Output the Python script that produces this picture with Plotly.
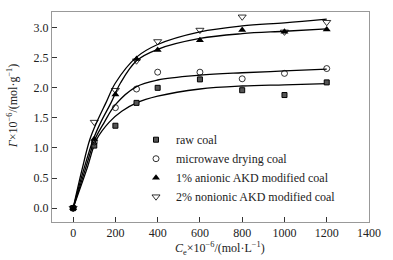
import plotly.graph_objects as go

# measured data points
conc = [0, 100, 200, 300, 400, 600, 800, 1000, 1200]
raw_coal = [0, 1.04, 1.37, 1.75, 2.00, 2.14, 1.96, 1.88, 2.09]
microwave = [0, 1.10, 1.67, 1.98, 2.26, 2.26, 2.15, 2.24, 2.32]
anionic = [0, 1.15, 1.89, 2.48, 2.63, 2.79, 2.96, 2.93, 2.97]
nonionic = [0, 1.43, 1.96, 2.45, 2.77, 2.96, 3.18, 2.93, 3.09]

# fitted curves
raw_fit_x = [0, 64, 111, 171, 230, 300, 400, 600, 800, 1000, 1200]
raw_fit_y = [0, 0.64, 1.14, 1.43, 1.61, 1.75, 1.86, 1.98, 2.03, 2.05, 2.07]
mw_fit_x = [0, 57, 103, 148, 200, 300, 400, 600, 800, 1000, 1200]
mw_fit_y = [0, 0.64, 1.14, 1.43, 1.72, 2.02, 2.13, 2.21, 2.25, 2.28, 2.31]
an_fit_x = [0, 50, 95, 131, 179, 224, 300, 400, 600, 800, 1000, 1200]
an_fit_y = [0, 0.64, 1.14, 1.43, 1.75, 2.08, 2.45, 2.64, 2.82, 2.90, 2.94, 2.98]
ni_fit_x = [0, 42, 79, 112, 155, 200, 300, 400, 600, 800, 1000, 1200]
ni_fit_y = [0, 0.64, 1.14, 1.43, 1.75, 2.08, 2.51, 2.72, 2.93, 3.03, 3.08, 3.14]

x_ticks = [0, 200, 400, 600, 800, 1000, 1200, 1400]
y_ticks = [0.0, 0.5, 1.0, 1.5, 2.0, 2.5, 3.0]

x_title = "<i>C</i><sub>e</sub>×10<sup>−6</sup>/(mol·L<sup>−1</sup>)"
y_title = "<i>Γ</i>×10<sup>−6</sup>/(mol·g<sup>−1</sup>)"

FONT = "Liberation Serif, Times New Roman, DejaVu Serif, serif"
fig = go.Figure()

for fx, fy in [(raw_fit_x, raw_fit_y), (mw_fit_x, mw_fit_y),
               (an_fit_x, an_fit_y), (ni_fit_x, ni_fit_y)]:
    fig.add_trace(go.Scatter(x=fx, y=fy, mode="lines", showlegend=False,
                             line=dict(color="black", width=1.3, shape="spline", smoothing=1.0),
                             hoverinfo="skip"))

series = [
    ("raw coal", raw_coal, dict(symbol="square", size=5, color="#555", line=dict(color="black", width=1))),
    ("microwave drying coal", microwave, dict(symbol="circle-open", size=6, color="black", line=dict(width=0.8))),
    ("1% anionic AKD modified coal", anionic, dict(symbol="triangle-up", size=7, color="black")),
    ("2% nonionic AKD modified coal", nonionic, dict(symbol="triangle-down-open", size=7, color="black", line=dict(width=0.8))),
]
for name, vals, mk in series:
    fig.add_trace(go.Scatter(x=conc, y=vals, mode="markers", name=name, marker=mk))

axis_common = dict(showline=True, mirror=True, linecolor="#999", linewidth=1,
                   ticks="inside", ticklen=5, tickcolor="#333", showgrid=False,
                   zeroline=False, ticklabeloverflow="allow", automargin=False,
                   tickfont=dict(family=FONT, size=12, color="#222"))

fig.update_layout(
    width=393, height=260,
    margin=dict(l=52, r=24, t=12, b=38),
    paper_bgcolor="white", plot_bgcolor="white",
    font=dict(family=FONT, size=12, color="#222"),
    xaxis=dict(range=[-100, 1400], tickvals=x_ticks,
               ticktext=[str(v) for v in x_ticks], **axis_common),
    yaxis=dict(range=[-0.23, 3.26], tickvals=y_ticks,
               ticktext=[f"{v:.1f}" for v in y_ticks], **axis_common),
    legend=dict(x=0.265, y=0.461, xanchor="left", yanchor="top",
                bgcolor="rgba(0,0,0,0)", font=dict(family=FONT, size=12, color="#222"),
                itemwidth=30, tracegroupgap=0),
    showlegend=True,
    annotations=[
        dict(text=x_title, xref="paper", yref="paper", x=0.53, y=-0.124,
             xanchor="center", yanchor="middle", showarrow=False,
             font=dict(family=FONT, size=12, color="#222")),
        dict(text=y_title, xref="paper", yref="paper", x=-0.126, y=0.552,
             xanchor="center", yanchor="middle", showarrow=False, textangle=-90,
             font=dict(family=FONT, size=12, color="#222")),
    ],
)

fig.write_html("out.html", config={"displayModeBar": False},
               post_script="document.body.style.margin='0';document.body.style.overflow='hidden';")
